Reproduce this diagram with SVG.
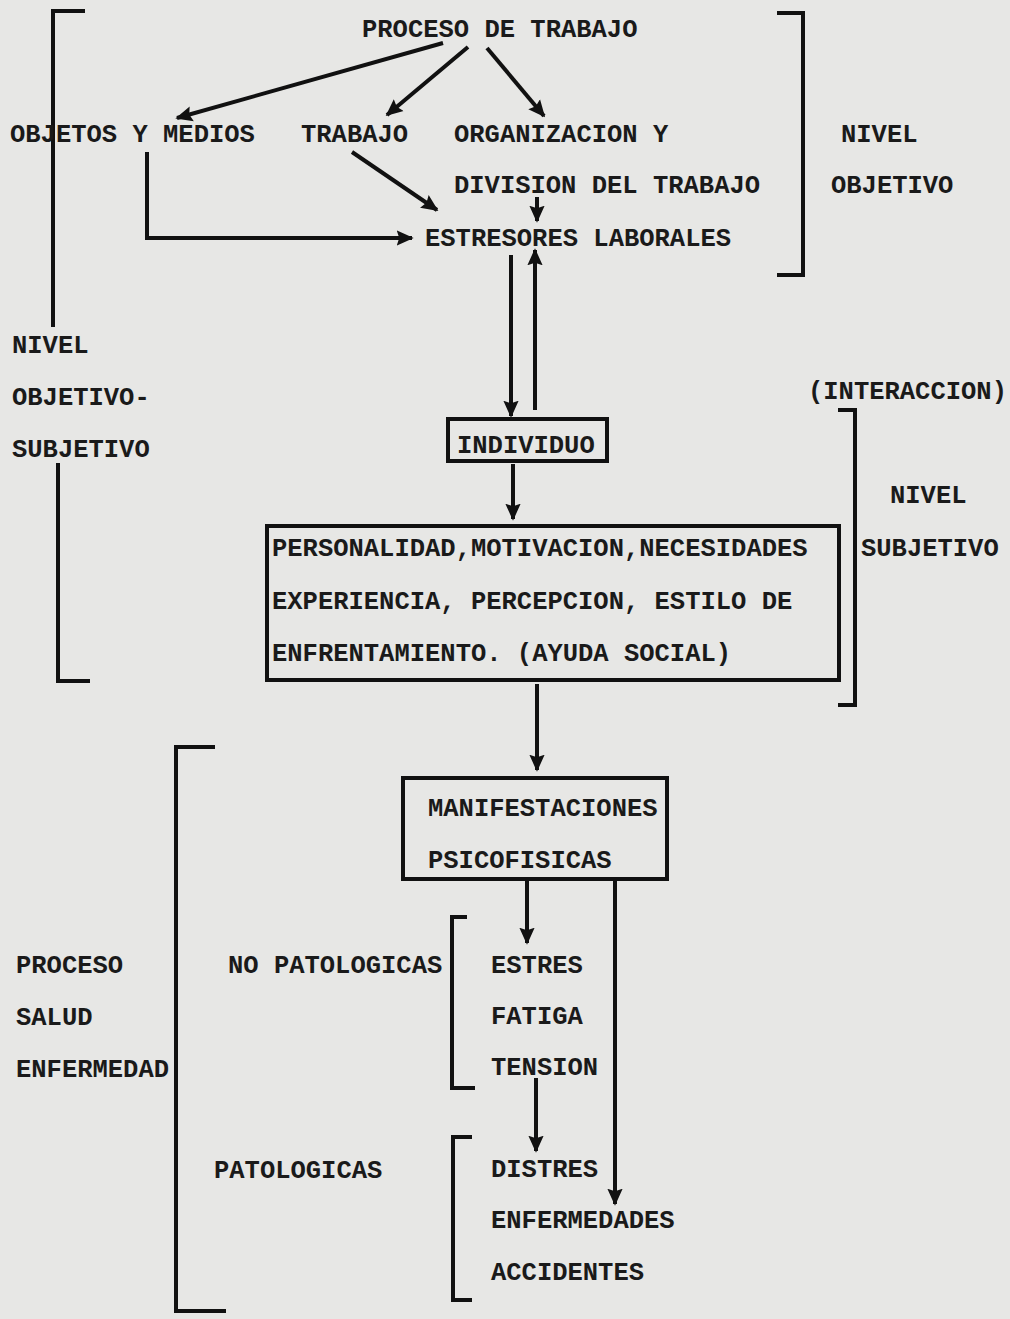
<svg xmlns="http://www.w3.org/2000/svg" width="1010" height="1319" viewBox="0 0 1010 1319">
<defs>
<marker id="ah" viewBox="0 0 10 10" refX="9" refY="5" markerWidth="17" markerHeight="17" markerUnits="userSpaceOnUse" orient="auto">
<path d="M0,0.5 L10,5 L0,9.5 L1.5,5 Z" fill="#111"/>
</marker>
</defs>
<style>
text{font-family:"Liberation Mono","Courier New",monospace;font-weight:bold;font-size:25.5px;fill:#1a1a1a}
.bx{stroke:#111;stroke-width:4;fill:none}
.br{stroke:#111;stroke-width:4;fill:none}
.ar{stroke:#111;stroke-width:4;fill:none;marker-end:url(#ah)}
</style>
<rect x="0" y="0" width="1010" height="1319" fill="#e7e7e5"/>

<g id="brackets">
<path class="br" d="M85,11 H53 V327"/>
<path class="br" d="M58,463 V681 H90"/>
<path class="br" d="M777,13 H803 V275 H777"/>
<path class="br" d="M838,410 H855 V705 H838"/>
<path class="br" d="M215,747 H176 V1311 H226"/>
<path class="br" d="M467,917 H452 V1088 H475"/>
<path class="br" d="M472,1137 H453 V1300 H472"/>
</g>

<g id="labels">
<text x="841" y="142">NIVEL</text>
<text x="831" y="193">OBJETIVO</text>
<text x="12" y="353">NIVEL</text>
<text x="12" y="405">OBJETIVO-</text>
<text x="12" y="457">SUBJETIVO</text>
<text x="808" y="399">(INTERACCION)</text>
<text x="890" y="503">NIVEL</text>
<text x="861" y="556">SUBJETIVO</text>
<text x="16" y="973">PROCESO</text>
<text x="16" y="1025">SALUD</text>
<text x="16" y="1077">ENFERMEDAD</text>
<text x="228" y="973">NO PATOLOGICAS</text>
<text x="214" y="1178">PATOLOGICAS</text>
</g>

<g id="proceso"><text x="362" y="37">PROCESO DE TRABAJO</text></g>
<g id="objetos"><text x="10" y="142">OBJETOS Y MEDIOS</text></g>
<g id="trabajo"><text x="301" y="142">TRABAJO</text></g>
<g id="organizacion"><text x="454" y="142">ORGANIZACION Y</text><text x="454" y="193">DIVISION DEL TRABAJO</text></g>
<g id="estresores"><text x="425" y="246">ESTRESORES LABORALES</text></g>
<g id="individuo"><rect class="bx" x="448" y="419" width="159" height="42"/><text x="457" y="453">INDIVIDUO</text></g>
<g id="personalidad"><rect class="bx" x="267" y="526" width="572" height="154"/>
<text x="272" y="556">PERSONALIDAD,MOTIVACION,NECESIDADES</text>
<text x="272" y="609">EXPERIENCIA, PERCEPCION, ESTILO DE</text>
<text x="272" y="661">ENFRENTAMIENTO. (AYUDA SOCIAL)</text></g>
<g id="manifestaciones"><rect class="bx" x="403" y="778" width="264" height="101"/>
<text x="428" y="816">MANIFESTACIONES</text>
<text x="428" y="868">PSICOFISICAS</text></g>
<g id="nopat"><text x="491" y="973">ESTRES</text><text x="491" y="1024">FATIGA</text><text x="491" y="1075">TENSION</text></g>
<g id="pat"><text x="491" y="1177">DISTRES</text><text x="491" y="1228">ENFERMEDADES</text><text x="491" y="1280">ACCIDENTES</text></g>

<g id="connectors">
<line class="ar" x1="443" y1="43" x2="177" y2="118"/>
<line class="ar" x1="468" y1="47" x2="387" y2="115"/>
<line class="ar" x1="487" y1="48" x2="544" y2="116"/>
<line class="ar" x1="352" y1="152" x2="437" y2="210"/>
<path class="ar" d="M147,152 V238 H412"/>
<line class="ar" x1="537" y1="197" x2="537" y2="221"/>
<line class="ar" x1="511" y1="255" x2="511" y2="416"/>
<line class="ar" x1="535" y1="410" x2="535" y2="250"/>
<line class="ar" x1="513" y1="464" x2="513" y2="519"/>
<line class="ar" x1="537" y1="684" x2="537" y2="770"/>
<line class="ar" x1="527" y1="881" x2="527" y2="943"/>
<line class="ar" x1="536" y1="1078" x2="536" y2="1151"/>
<line class="ar" x1="615" y1="881" x2="615" y2="1204"/>
</g>
</svg>
